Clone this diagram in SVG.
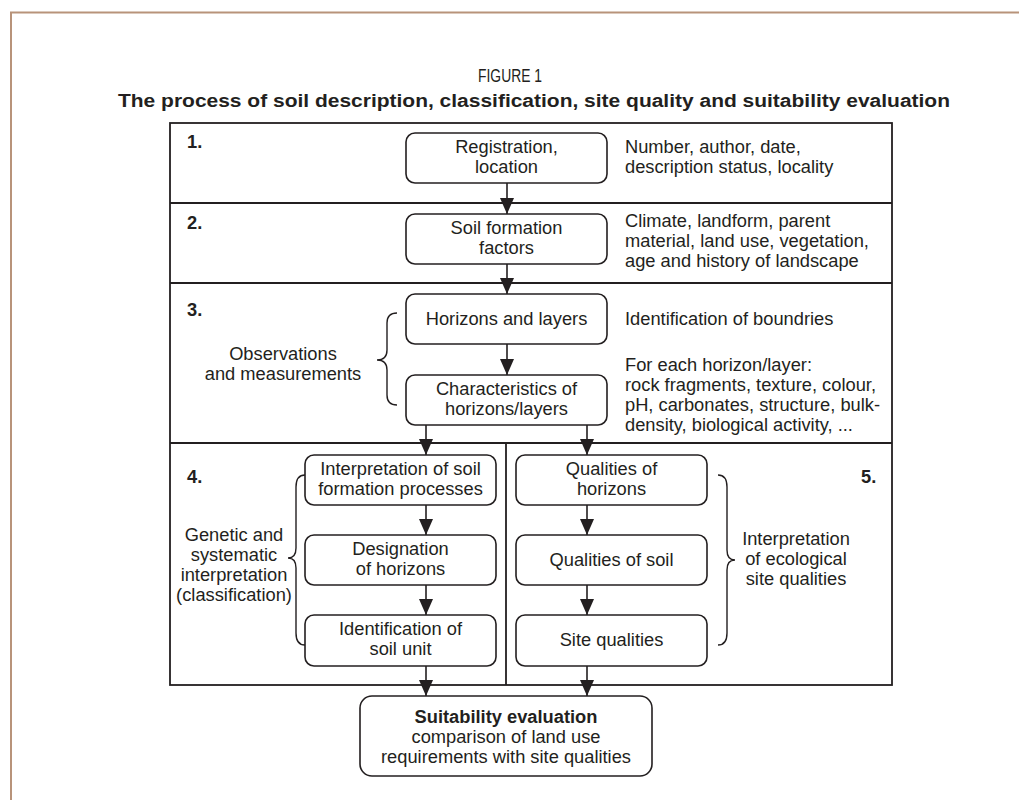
<svg xmlns="http://www.w3.org/2000/svg" width="1019" height="800" viewBox="0 0 1019 800">
<style>
.t{font-family:"Liberation Sans",Arial,sans-serif;font-size:18.3px;fill:#231f20}
.c{text-anchor:middle}
.b{font-weight:bold}
.box{fill:#fff;stroke:#231f20;stroke-width:1.6}
.frame{fill:none;stroke:#231f20;stroke-width:1.8}
.conn{stroke:#231f20;stroke-width:1.6;fill:none}
.brace{fill:none;stroke:#231f20;stroke-width:1.4}
</style>
<defs>
<marker id="ah" viewBox="0 0 16 14" refX="16" refY="7" markerWidth="16" markerHeight="14" markerUnits="userSpaceOnUse" orient="auto">
<path d="M0,0 L16,7 L0,14 z" fill="#231f20"/>
</marker>
</defs>
<rect width="1019" height="800" fill="#fff"/>
<g id="page-border">
<path d="M11,800 L11,12.5 L1019,12.5" fill="none" stroke="#b8937a" stroke-width="2"/>
</g>
<g id="title">
<text class="t c" x="510" y="82" font-size="18" textLength="64" lengthAdjust="spacingAndGlyphs">FIGURE 1</text>
<text class="t c b" x="534" y="107" font-size="19" textLength="832" lengthAdjust="spacingAndGlyphs">The process of soil description, classification, site quality and suitability evaluation</text>
</g>
<g id="frame">
<rect class="frame" x="170" y="123" width="722" height="562"/>
<line class="frame" x1="170" y1="203" x2="892" y2="203"/>
<line class="frame" x1="170" y1="283" x2="892" y2="283"/>
<line class="frame" x1="170" y1="443" x2="892" y2="443"/>
<line class="frame" x1="506" y1="443" x2="506" y2="685" stroke-width="1.4"/>
<text class="t b" x="187" y="148">1.</text>
<text class="t b" x="187" y="229">2.</text>
<text class="t b" x="187" y="316">3.</text>
<text class="t b" x="187" y="483">4.</text>
<text class="t b" x="861" y="483">5.</text>
</g>
<g id="connectors">
<line class="conn" x1="507" y1="183" x2="507" y2="214" marker-end="url(#ah)"/>
<line class="conn" x1="507" y1="264" x2="507" y2="294" marker-end="url(#ah)"/>
<line class="conn" x1="507" y1="344" x2="507" y2="375" marker-end="url(#ah)"/>
<line class="conn" x1="426" y1="425" x2="426" y2="455" marker-end="url(#ah)"/>
<line class="conn" x1="587" y1="425" x2="587" y2="455" marker-end="url(#ah)"/>
<line class="conn" x1="426" y1="505" x2="426" y2="535" marker-end="url(#ah)"/>
<line class="conn" x1="426" y1="585" x2="426" y2="615" marker-end="url(#ah)"/>
<line class="conn" x1="587" y1="505" x2="587" y2="535" marker-end="url(#ah)"/>
<line class="conn" x1="587" y1="585" x2="587" y2="615" marker-end="url(#ah)"/>
<line class="conn" x1="426" y1="666" x2="426" y2="696" marker-end="url(#ah)"/>
<line class="conn" x1="587" y1="666" x2="587" y2="696" marker-end="url(#ah)"/>
</g>
<g id="n1">
<rect class="box" x="406" y="133" width="201" height="50" rx="9"/>
<text class="t c" x="506.5" y="153">Registration,</text>
<text class="t c" x="506.5" y="173">location</text>
</g>
<g id="n1-note">
<text class="t" x="625" y="153">Number, author, date,</text>
<text class="t" x="625" y="173">description status, locality</text>
</g>
<g id="n2">
<rect class="box" x="406" y="214" width="201" height="50" rx="9"/>
<text class="t c" x="506.5" y="234">Soil formation</text>
<text class="t c" x="506.5" y="254">factors</text>
</g>
<g id="n2-note">
<text class="t" x="625" y="227">Climate, landform, parent</text>
<text class="t" x="625" y="247">material, land use, vegetation,</text>
<text class="t" x="625" y="267">age and history of landscape</text>
</g>
<g id="n3a">
<rect class="box" x="406" y="294" width="201" height="50" rx="9"/>
<text class="t c" x="506.5" y="325">Horizons and layers</text>
</g>
<g id="n3a-note">
<text class="t" x="625" y="325">Identification of boundries</text>
</g>
<g id="n3b">
<rect class="box" x="406" y="375" width="201" height="50" rx="9"/>
<text class="t c" x="506.5" y="395">Characteristics of</text>
<text class="t c" x="506.5" y="415">horizons/layers</text>
</g>
<g id="n3b-note">
<text class="t" x="625" y="371">For each horizon/layer:</text>
<text class="t" x="625" y="391">rock fragments, texture, colour,</text>
<text class="t" x="625" y="411">pH, carbonates, structure, bulk-</text>
<text class="t" x="625" y="431">density, biological activity, ...</text>
</g>
<g id="obs">
<path class="brace" d="M397,313 Q387,313 387,323 L387,350 Q387,360 377,360 Q387,360 387,370 L387,395 Q387,405 397,405"/>
<text class="t c" x="283" y="360">Observations</text>
<text class="t c" x="283" y="380">and measurements</text>
</g>
<g id="n4a">
<rect class="box" x="305" y="455" width="191" height="50" rx="9"/>
<text class="t c" x="400.5" y="475">Interpretation of soil</text>
<text class="t c" x="400.5" y="495">formation processes</text>
</g>
<g id="n4b">
<rect class="box" x="305" y="535" width="191" height="50" rx="9"/>
<text class="t c" x="400.5" y="555">Designation</text>
<text class="t c" x="400.5" y="575">of horizons</text>
</g>
<g id="n4c">
<rect class="box" x="305" y="615" width="191" height="51" rx="9"/>
<text class="t c" x="400.5" y="635">Identification of</text>
<text class="t c" x="400.5" y="655">soil unit</text>
</g>
<g id="gen">
<path class="brace" d="M305,475 Q296,475 296,487 L296,548 Q296,558 288,558 Q296,558 296,568 L296,633 Q296,645 305,645"/>
<text class="t c" x="234" y="541">Genetic and</text>
<text class="t c" x="234" y="561">systematic</text>
<text class="t c" x="234" y="581">interpretation</text>
<text class="t c" x="234" y="601">(classification)</text>
</g>
<g id="n5a">
<rect class="box" x="516" y="455" width="191" height="50" rx="9"/>
<text class="t c" x="611.5" y="475">Qualities of</text>
<text class="t c" x="611.5" y="495">horizons</text>
</g>
<g id="n5b">
<rect class="box" x="516" y="535" width="191" height="50" rx="9"/>
<text class="t c" x="611.5" y="566">Qualities of soil</text>
</g>
<g id="n5c">
<rect class="box" x="516" y="615" width="191" height="51" rx="9"/>
<text class="t c" x="611.5" y="646">Site qualities</text>
</g>
<g id="eco">
<path class="brace" d="M718,475 Q727,475 727,487 L727,550 Q727,560 735,560 Q727,560 727,570 L727,633 Q727,645 718,645"/>
<text class="t c" x="796" y="545">Interpretation</text>
<text class="t c" x="796" y="565">of ecological</text>
<text class="t c" x="796" y="585">site qualities</text>
</g>
<g id="n6">
<rect class="box" x="360" y="696" width="292" height="80" rx="12"/>
<text class="t c b" x="506" y="723">Suitability evaluation</text>
<text class="t c" x="506" y="743">comparison of land use</text>
<text class="t c" x="506" y="763">requirements with site qualities</text>
</g>
</svg>
